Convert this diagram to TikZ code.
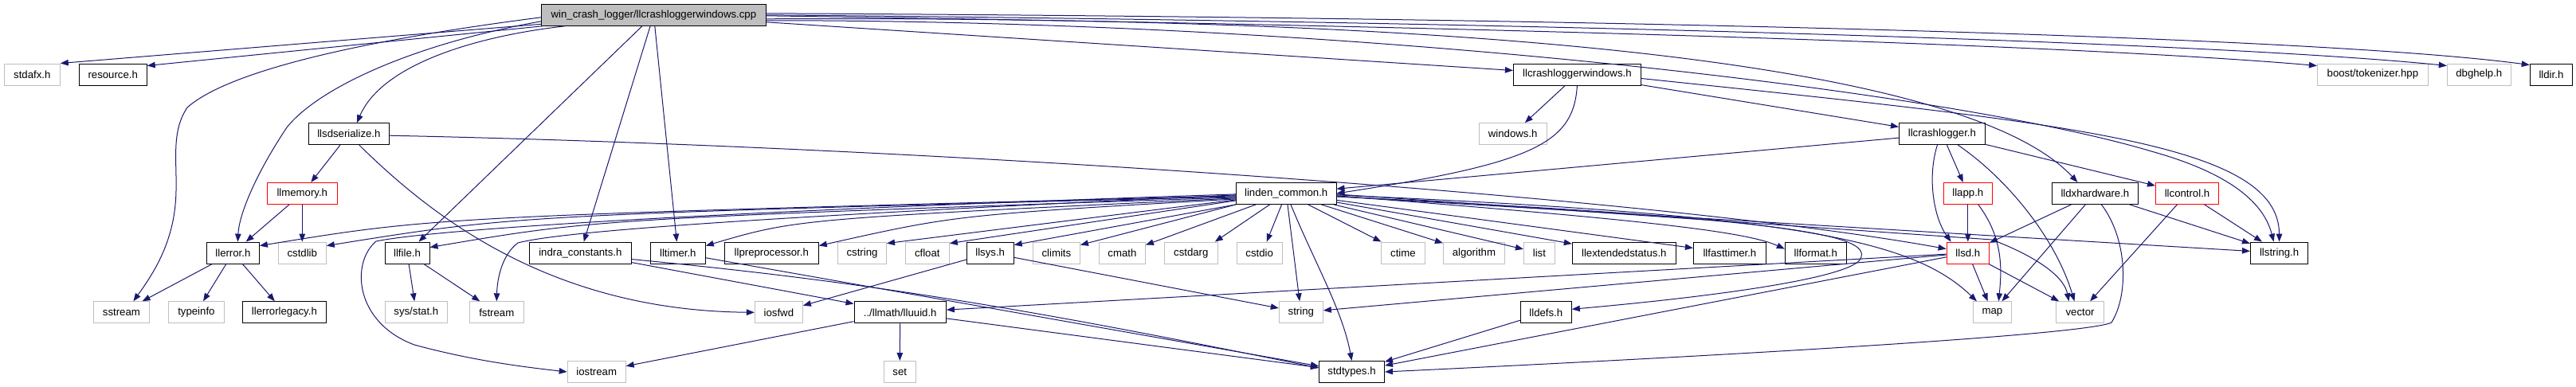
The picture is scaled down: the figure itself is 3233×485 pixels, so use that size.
\documentclass[tikz,border=0pt]{standalone}
\usepackage{fontspec}
\setmainfont{Liberation Sans}
\usetikzlibrary{arrows.meta}
\definecolor{edgec}{HTML}{191970}
\definecolor{grayb}{HTML}{BFBFBF}
\definecolor{redb}{HTML}{FF0000}
\begin{document}
\begin{tikzpicture}[x=1pt,y=-1pt,
  nb/.style={draw=black, line width=1pt, rectangle, minimum height=27pt, inner sep=0pt, font=\fontsize{13.2}{15}\selectfont, text=black},
  gb/.style={nb, draw=grayb},
  rb/.style={nb, draw=redb},
  rootb/.style={nb, fill=grayb},
  dep/.style={draw=edgec, line width=1pt, -{Triangle[length=10pt,width=7.5pt]}}]
\useasboundingbox (0,0) rectangle (3233,485);
% row 0
\node[rootb, minimum width=281.7pt] (R) at (820.4,18.8) {win\_crash\_logger/llcrashloggerwindows.cpp};
% row 1
\node[gb, minimum width=70pt] (stdafx) at (40.3,93.5) {stdafx.h};
\node[nb, minimum width=85pt] (resource) at (141.7,93.5) {resource.h};
\node[nb, minimum width=160pt] (CW) at (1979.4,93.5) {llcrashloggerwindows.h};
\node[gb, minimum width=139pt] (boost) at (2977.9,93.5) {boost/tokenizer.hpp};
\node[gb, minimum width=80pt] (dbghelp) at (3111.3,93.5) {dbghelp.h};
\node[nb, minimum width=53.4pt] (lldir) at (3201.9,93.5) {lldir.h};
% row 2
\node[nb, minimum width=101pt] (SS) at (437.9,168.2) {llsdserialize.h};
\node[gb, minimum width=85pt] (windows) at (1898.7,168.2) {windows.h};
\node[nb, minimum width=108pt] (CL) at (2437.4,168.2) {llcrashlogger.h};
% row 3
\node[rb, minimum width=88pt] (llmemory) at (379.3,242.9) {llmemory.h};
\node[nb, minimum width=125.6pt] (LC) at (1614.2,242.9) {linden\_common.h};
\node[rb, minimum width=61pt] (llapp) at (2469.8,242.9) {llapp.h};
\node[nb, minimum width=108pt] (lldx) at (2629.4,242.9) {lldxhardware.h};
\node[rb, minimum width=79pt] (llcontrol) at (2745,242.9) {llcontrol.h};
% row 4
\node[nb, minimum width=66pt] (llerror) at (292.4,317.6) {llerror.h};
\node[gb, minimum width=60pt] (cstdlib) at (379.3,317.6) {cstdlib};
\node[nb, minimum width=56pt] (llfile) at (511,317.6) {llfile.h};
\node[nb, minimum width=128pt] (indra) at (728.4,317.6) {indra\_constants.h};
\node[nb, minimum width=69pt] (lltimer) at (850.8,317.6) {lltimer.h};
\node[nb, minimum width=118pt] (llpre) at (968.3,317.6) {llpreprocessor.h};
\node[gb, minimum width=61pt] (cstring) at (1082,317.6) {cstring};
\node[gb, minimum width=55pt] (cfloat) at (1163.8,317.6) {cfloat};
\node[nb, minimum width=59pt] (llsys) at (1242.7,317.6) {llsys.h};
\node[gb, minimum width=59pt] (climits) at (1325.9,317.6) {climits};
\node[gb, minimum width=58pt] (cmath) at (1408.4,317.6) {cmath};
\node[gb, minimum width=67pt] (cstdarg) at (1494.8,317.6) {cstdarg};
\node[gb, minimum width=57pt] (cstdio) at (1580.7,317.6) {cstdio};
\node[gb, minimum width=55pt] (ctime) at (1760.9,317.6) {ctime};
\node[gb, minimum width=77pt] (algorithm) at (1849.9,317.6) {algorithm};
\node[gb, minimum width=39pt] (list) at (1931.9,317.6) {list};
\node[nb, minimum width=130pt] (llext) at (2038.3,317.6) {llextendedstatus.h};
\node[nb, minimum width=91pt] (llfast) at (2170.9,317.6) {llfasttimer.h};
\node[nb, minimum width=77pt] (llformat) at (2278.8,317.6) {llformat.h};
\node[rb, minimum width=53.4pt] (llsd) at (2469.8,317.6) {llsd.h};
\node[nb, minimum width=72.4pt] (llstring) at (2860.6,317.6) {llstring.h};
% row 5
\node[gb, minimum width=70pt] (sstream) at (152.4,392.3) {sstream};
\node[gb, minimum width=70pt] (typeinfo) at (246.4,392.3) {typeinfo};
\node[nb, minimum width=105pt] (llerrleg) at (356.9,392.3) {llerrorlegacy.h};
\node[gb, minimum width=78pt] (sysstat) at (522.3,392.3) {sys/stat.h};
\node[gb, minimum width=68pt] (fstream) at (623.3,392.3) {fstream};
\node[gb, minimum width=60pt] (iosfwd) at (977.4,392.3) {iosfwd};
\node[nb, minimum width=115.4pt] (lluuid) at (1129.7,392.3) {../llmath/lluuid.h};
\node[gb, minimum width=55pt] (string) at (1632.8,392.3) {string};
\node[nb, minimum width=64pt] (lldefs) at (1940.3,392.3) {lldefs.h};
\node[gb, minimum width=48pt] (map) at (2500.4,392.3) {map};
\node[gb, minimum width=60pt] (vector) at (2610.5,392.3) {vector};
% row 6
\node[gb, minimum width=73pt] (iostream) at (748.7,467) {iostream};
\node[gb, minimum width=40pt] (set) at (1129.2,467) {set};
\node[nb, minimum width=82pt] (stdtypes) at (1696.5,467) {stdtypes.h};

% ---- root edges
\draw[dep] (R) -- (stdafx.north east);
\draw[dep] (R) -- ([yshift=-3pt]resource.north east);
\draw[dep] ([yshift=-3pt]R.west) .. controls (420,55) and (280,95) .. (235,135) .. controls (215,165) and (222,200) .. (221,240) .. controls (220,300) and (195,340) .. ([xshift=15pt]sstream.north);
\draw[dep] ([yshift=-8pt]R.west) .. controls (520,55) and (400,110) .. (360,160) .. controls (320,220) and (300,270) .. ([xshift=6pt]llerror.north);
\draw[dep] ([xshift=30pt]R.south west) .. controls (600,45) and (480,80) .. ([xshift=10pt]SS.north);
\draw[dep] (R) -- (llfile);
\draw[dep] (R) -- (indra);
\draw[dep] (R) -- (lltimer);
\draw[dep] ([yshift=-9pt]R.east) -- ([yshift=5pt]CW.west);
\draw[dep] ([yshift=-5pt]R.east) .. controls (1700,20) and (2450,60) .. ([xshift=-22pt]lldx.north);
\draw[dep] ([yshift=-7pt]R.east) .. controls (1700,25) and (2450,115) .. (2700,190) .. controls (2790,215) and (2840,250) .. ([xshift=-7pt]llstring.north);
\draw[dep] ([yshift=-1pt]R.east) .. controls (2000,35) and (2650,60) .. ([yshift=11pt]boost.west);
\draw[dep] (R.east) .. controls (2000,28) and (2800,55) .. ([yshift=11pt]dbghelp.west);
\draw[dep] ([yshift=2pt]R.east) .. controls (2000,22) and (2900,45) .. ([yshift=12pt]lldir.west);
% ---- llcrashloggerwindows.h
\draw[dep] (CW) -- (windows);
\draw[dep] (CW.south) .. controls (1975,180) and (1925,205) .. (LC.east);
\draw[dep] (CW) -- (CL);
\draw[dep] ([yshift=-5pt]CW.east) .. controls (2600,155) and (2860,180) .. (llstring.north);
% ---- llsdserialize.h
\draw[dep] (SS) -- (llmemory);
\draw[dep] ([xshift=13pt]SS.south) .. controls (540,270) and (690,390) .. (iosfwd.west);
\draw[dep] ([yshift=-2pt]SS.east) .. controls (1200,185) and (2100,250) .. ([yshift=5pt]llsd.west);
% ---- llmemory / llerror / llfile
\draw[dep] (llmemory) -- (llerror);
\draw[dep] (llmemory) -- (cstdlib);
\draw[dep] (llerror) -- (sstream);
\draw[dep] (llerror) -- (typeinfo);
\draw[dep] (llerror) -- (llerrleg);
\draw[dep] (llfile) -- (sysstat);
\draw[dep] (llfile) -- (fstream);
% ---- linden_common.h, left fan
\draw[dep] ([yshift=-3pt]LC.west) .. controls (550,272) .. ([yshift=9pt]llerror.east);
\draw[dep] ([yshift=-4pt]LC.west) .. controls (650,270) .. ([yshift=9pt]cstdlib.east);
\draw[dep] ([yshift=-5pt]LC.west) .. controls (750,275) .. ([yshift=7pt]llfile.east);
\draw[dep] ([yshift=-2pt]LC.west) .. controls (900,275) and (700,292) .. (650,305) .. controls (630,320) and (624,350) .. (fstream.north);
\draw[dep] ([yshift=-1pt]LC.west) .. controls (1000,262) and (560,285) .. (472,303) .. controls (440,330) and (445,405) .. (520,433) .. controls (590,452) and (650,460) .. (iostream.west);
\draw[dep] ([yshift=-6pt]LC.west) .. controls (1000,275) .. ([yshift=9pt]lltimer.east);
\draw[dep] ([yshift=-7pt]LC.west) .. controls (1200,270) .. ([yshift=9pt]llpre.east);
\draw[dep] ([yshift=-8pt]LC.west) -- ([yshift=12pt]cstring.east);
\draw[dep] ([yshift=-9pt]LC.west) -- ([yshift=12pt]cfloat.east);
\draw[dep] (LC.south west) -- ([yshift=10pt]llsys.east);
\draw[dep] (LC.south west) -- ([yshift=10pt]climits.east);
\draw[dep] (LC) -- ([yshift=10pt]cmath.east);
\draw[dep] (LC) -- ([xshift=-4pt]cstdarg.north east);
\draw[dep] (LC) -- ([xshift=9pt]cstdio.north);
% ---- linden_common.h, right fan
\draw[dep] (LC) -- (string);
\draw[dep] (LC) .. controls (1650,330) and (1685,390) .. (stdtypes.north);
\draw[dep] (LC) -- (ctime);
\draw[dep] (LC) -- (algorithm);
\draw[dep] (LC) -- (list);
\draw[dep] (LC) -- (llext);
\draw[dep] (LC) -- (llfast);
\draw[dep] ([yshift=-3pt]LC.east) .. controls (2050,275) and (2190,290) .. ([yshift=5pt]llformat.west);
\draw[dep] (LC) -- (llstring);
\draw[dep] ([yshift=-2pt]LC.east) .. controls (2250,270) and (2400,300) .. ([xshift=5pt]map.north west);
\draw[dep] ([yshift=-1pt]LC.east) -- (2500,301) .. controls (2550,320) and (2590,345) .. ([xshift=-14pt]vector.north);
\draw[dep] ([yshift=-4pt]LC.east) .. controls (2250,275) and (2350,295) .. (2335,325) .. controls (2325,345) and (2200,368) .. ([yshift=4pt]lldefs.east);
% ---- llsd.h
\draw[dep] (llsd) -- (map);
\draw[dep] (llsd) -- (vector);
\draw[dep] (llsd) -- (string);
\draw[dep] (llsd) -- (lluuid);
\draw[dep] (llsd) -- (stdtypes);
% ---- lluuid, indra, lltimer, llsys, lldefs
\draw[dep] (lluuid) -- (set);
\draw[dep] (lluuid) -- (iostream);
\draw[dep] (lluuid) -- (stdtypes);
\draw[dep] (indra) -- (lluuid);
\draw[dep] ([yshift=-8pt]indra.east) .. controls (1100,355) and (1300,390) .. ([yshift=5pt]stdtypes.west);
\draw[dep] (lltimer) -- (stdtypes);
\draw[dep] (llsys) -- (iosfwd);
\draw[dep] (llsys) -- (string);
\draw[dep] (lldefs) -- (stdtypes);
% ---- llcrashlogger.h
\draw[dep] (CL) -- (LC);
\draw[dep] ([xshift=-6pt]CL.south) .. controls (2418,225) and (2428,275) .. ([xshift=6pt]llsd.north west);
\draw[dep] (CL) -- (llapp);
\draw[dep] ([xshift=20pt]CL.south) .. controls (2520,225) and (2580,300) .. ([xshift=-7pt]vector.north);
\draw[dep] (CL) -- (llcontrol);
% ---- llapp.h
\draw[dep] (llapp) -- (llsd);
\draw[dep] ([xshift=-18pt]llapp.south east) .. controls (2515,300) and (2512,340) .. ([xshift=8pt]map.north);
% ---- lldxhardware.h
\draw[dep] (lldx) -- (llsd);
\draw[dep] (lldx) -- (map);
\draw[dep] ([xshift=8pt]lldx.south) .. controls (2670,300) and (2672,370) .. (2650,405) .. controls (2620,420) and (2200,445) .. (stdtypes.east);
\draw[dep] (lldx) -- (llstring);
% ---- llcontrol.h
\draw[dep] (llcontrol) -- (vector);
\draw[dep] (llcontrol) -- (llstring);
\end{tikzpicture}
\end{document}
